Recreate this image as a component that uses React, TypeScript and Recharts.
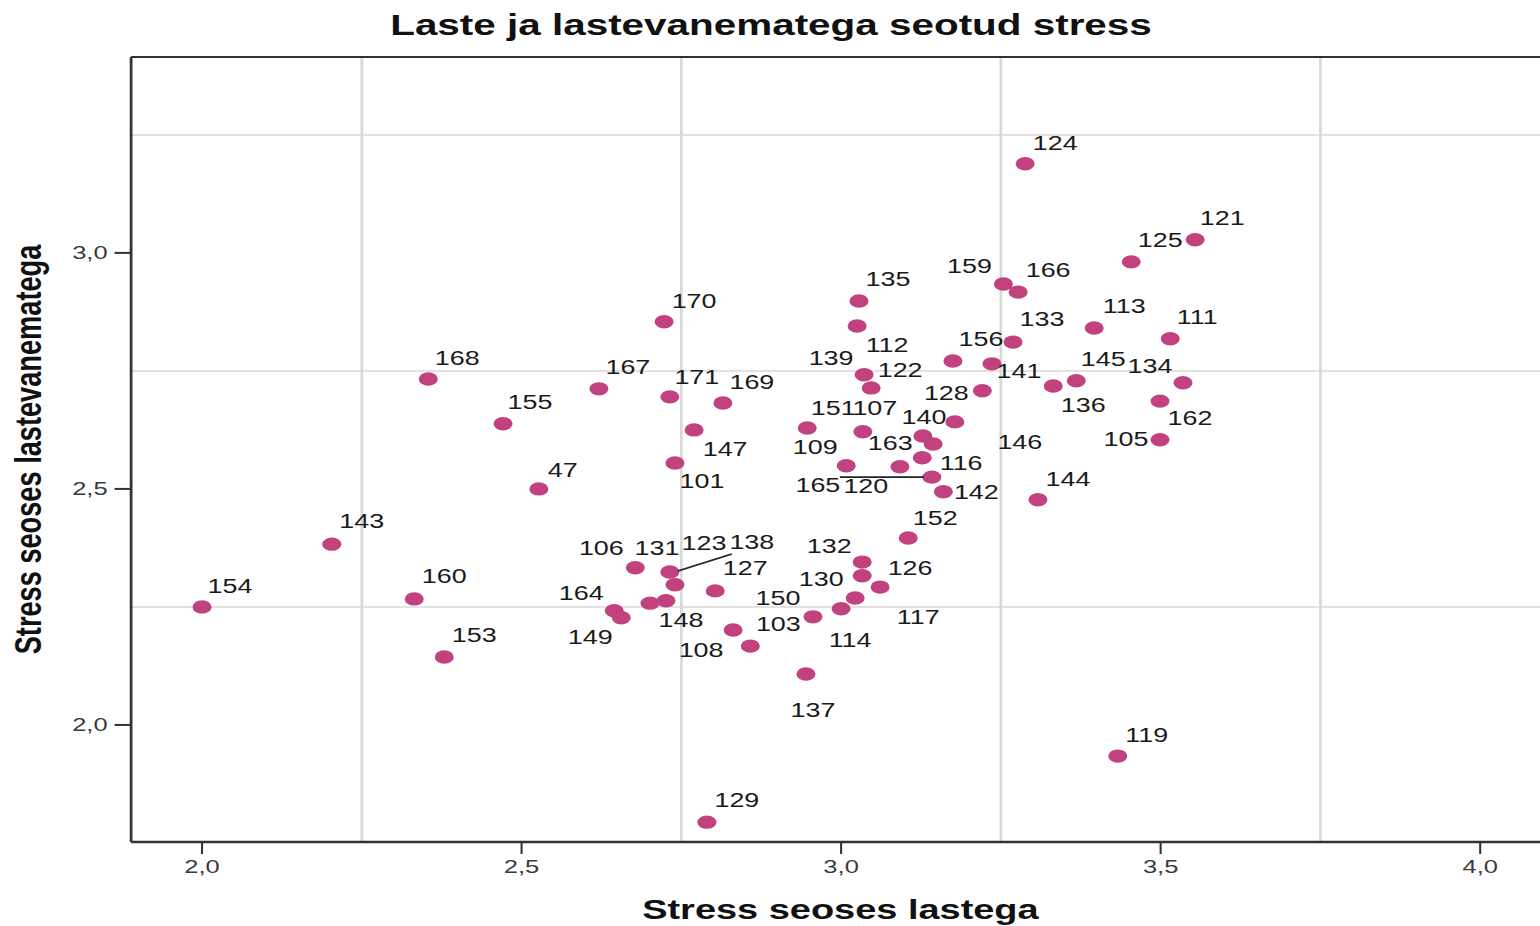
import React from "react";
import { ScatterChart, Scatter, XAxis, YAxis, ReferenceLine } from "recharts";

// case numbers and the two scale scores (x: stress with children, y: stress with parents)
const caseIds = [
  "124", "121", "125", "159", "166", "135", "112", "170", "133", "113",
  "111", "156", "141", "128", "145", "134", "136", "162", "105", "168",
  "167", "171", "169", "147", "101", "155", "47", "139", "122", "151",
  "107", "146", "140", "116", "163", "165", "109", "120", "142", "144",
  "152", "143", "154", "160", "153", "106", "138", "131", "127", "148",
  "123", "164", "149", "108", "103", "132", "130", "126", "117", "114",
  "150", "137", "119", "129",
];
const childStress = [
  3.288, 3.554, 3.454, 3.254, 3.277, 3.028, 3.025, 2.723, 3.269, 3.396,
  3.515, 3.175, 3.236, 3.221, 3.368, 3.535, 3.332, 3.499, 3.499, 2.354,
  2.621, 2.732, 2.815, 2.77, 2.74, 2.471, 2.527, 3.036, 3.047, 2.947,
  3.034, 3.178, 3.128, 3.144, 3.127, 3.092, 3.008, 3.142, 3.16, 3.308,
  3.105, 2.203, 2.0, 2.332, 2.379, 2.678, 2.732, 2.74, 2.803, 2.701,
  2.726, 2.645, 2.656, 2.831, 2.858, 3.033, 3.033, 3.061, 3.022, 3.0,
  2.956, 2.945, 3.433, 2.79,
];
const parentStress = [
  3.189, 3.028, 2.981, 2.934, 2.917, 2.898, 2.845, 2.854, 2.811, 2.841,
  2.818, 2.771, 2.765, 2.708, 2.729, 2.725, 2.718, 2.686, 2.604, 2.733,
  2.712, 2.695, 2.682, 2.625, 2.555, 2.638, 2.5, 2.742, 2.714, 2.629,
  2.621, 2.642, 2.612, 2.595, 2.566, 2.547, 2.549, 2.525, 2.494, 2.477,
  2.396, 2.383, 2.25, 2.267, 2.144, 2.333, 2.324, 2.297, 2.284, 2.258,
  2.263, 2.242, 2.227, 2.201, 2.167, 2.345, 2.316, 2.292, 2.269, 2.246,
  2.229, 2.108, 1.934, 1.794,
];
const xTicks = [2, 2.5, 3, 3.5, 4];
const yTicks = [2, 2.5, 3];
const gridX = [2.25, 2.75, 3.25, 3.75];
const gridY = [2.25, 2.75, 3.25];

// where each case label sits, relative to its dot (screen px)
const labelNudge: Record<string, [number, number]> = {
  "124": [30, -21], "121": [27, -22], "125": [29, -22], "159": [-34, -18],
  "166": [30, -22], "135": [29, -22], "112": [30, 19], "170": [30, -21],
  "133": [29, -23], "113": [30, -22], "111": [27, -22], "156": [28, -22],
  "141": [27, 7], "128": [-36, 2], "145": [27, -22], "134": [-33, -17],
  "136": [30, 19], "162": [30, 17], "105": [-34, -1], "168": [29, -21],
  "167": [29, -22], "171": [27, -20], "169": [29, -21], "147": [31, 19],
  "101": [27, 18], "155": [27, -22], "47": [24, -19], "139": [-33, -17],
  "122": [29, -18], "151": [26, -20], "107": [12, -24], "146": [65, 20],
  "140": [1, -19], "116": [28, 19], "163": [-32, -15], "165": [-82, 18],
  "109": [-31, -19], "120": [-66, 9], "142": [33, 0], "144": [30, -21],
  "152": [27, -20], "143": [30, -23], "154": [28, -21], "160": [30, -23],
  "153": [30, -22], "106": [-34, -20], "138": [82, -30], "131": [-18, -37],
  "127": [30, -23], "148": [31, 17], "123": [38, -58], "164": [-33, -18],
  "149": [-31, 19], "108": [-32, 20], "103": [28, -22], "132": [-33, -16],
  "130": [-41, 3], "126": [30, -19], "117": [63, 19], "114": [9, 31],
  "150": [-35, -19], "137": [7, 36], "119": [29, -21], "129": [30, -22],
};
// leader lines for labels that were pushed away: x1, y1, x2, y2 relative to the dot
const leaders: Record<string, [number, number, number, number]> = {
  "138": [62, -18, 8, -1],
  "120": [-92, 0, -8, 0],
};

const points = caseIds.map((id, i) => ({
  id,
  x: childStress[i],
  y: parentStress[i],
}));

const S = 1.38; // the original picture is stretched sideways
const W = 1130;
const H = 926;
const FONT = '"Liberation Sans", Arial, Helvetica, sans-serif';
const fmt = (v: number) => v.toFixed(1).replace(".", ",");

const Dot = (p: any) => (
  <ellipse cx={p.cx} cy={p.cy} rx={6.9} ry={6.7} fill="#c2417f" />
);

const PointLabel = (p: any) => {
  const id = p.payload.id;
  const [dx, dy] = labelNudge[id] ?? [28, -21];
  const lead = leaders[id];
  return (
    <g>
      {lead && (
        <line
          x1={p.cx + lead[0] / S}
          y1={p.cy + lead[1]}
          x2={p.cx + lead[2] / S}
          y2={p.cy + lead[3]}
          stroke="#222"
          strokeWidth={1.6}
        />
      )}
      <text
        x={p.cx + dx / S}
        y={p.cy + dy + 7}
        textAnchor="middle"
        fontSize={19.5}
        fill="#1a1a1a"
        fontFamily={FONT}
      >
        {id}
      </text>
    </g>
  );
};

export default function App() {
  return (
    <div
      style={{
        position: "absolute",
        left: 0,
        top: 0,
        width: 1540,
        height: H,
        overflow: "hidden",
        background: "#fff",
      }}
    >
      <div
        style={{
          position: "relative",
          width: W,
          height: H,
          transform: `scaleX(${S})`,
          transformOrigin: "0 0",
        }}
      >
        <ScatterChart
          width={W}
          height={H}
          margin={{ top: 57, right: 6, bottom: 0, left: 0 }}
        >
          <XAxis
            type="number"
            dataKey="x"
            domain={[1.889, 4.111]}
            ticks={xTicks}
            allowDataOverflow
            height={84}
            tickSize={12}
            tickMargin={6}
            tickFormatter={fmt}
            axisLine={{ stroke: "#333", strokeWidth: 2.5 }}
            tickLine={{ stroke: "#333", strokeWidth: 1.5 }}
            tick={{ fill: "#3a3a3a", fontSize: 18.5, fontFamily: FONT }}
          />
          <YAxis
            type="number"
            dataKey="y"
            domain={[1.752, 3.415]}
            ticks={yTicks}
            allowDataOverflow
            width={95}
            tickSize={12}
            tickMargin={5}
            tickFormatter={fmt}
            axisLine={{ stroke: "#333", strokeWidth: 2 }}
            tickLine={{ stroke: "#333", strokeWidth: 2 }}
            tick={{ fill: "#3a3a3a", fontSize: 18.5, fontFamily: FONT }}
          />
          {gridX.map((v) => (
            <ReferenceLine key={"gx" + v} x={v} stroke="#d9d9d9" strokeWidth={2} />
          ))}
          {gridY.map((v) => (
            <ReferenceLine key={"gy" + v} y={v} stroke="#d9d9d9" strokeWidth={1.5} />
          ))}
          <ReferenceLine y={3.415} stroke="#333" strokeWidth={2} />
          <Scatter data={points} shape={Dot} isAnimationActive={false} />
          <Scatter data={points} shape={PointLabel} isAnimationActive={false} />
        </ScatterChart>

        {/* titles */}
        <svg
          width={W}
          height={H}
          style={{ position: "absolute", left: 0, top: 0, pointerEvents: "none" }}
        >
          <text
            x={558.7}
            y={35.5}
            textAnchor="middle"
            fontSize={29.3}
            fontWeight="bold"
            fill="#111"
            fontFamily={FONT}
          >
            Laste ja lastevanematega seotud stress
          </text>
          <text
            x={609}
            y={919}
            textAnchor="middle"
            fontSize={27.5}
            fontWeight="bold"
            fill="#111"
            fontFamily={FONT}
          >
            Stress seoses lastega
          </text>
          <text
            transform="translate(30,449.5) rotate(-90)"
            textAnchor="middle"
            fontSize={27.2}
            fontWeight="bold"
            fill="#111"
            fontFamily={FONT}
          >
            Stress seoses lastevanematega
          </text>
        </svg>
      </div>
    </div>
  );
}
